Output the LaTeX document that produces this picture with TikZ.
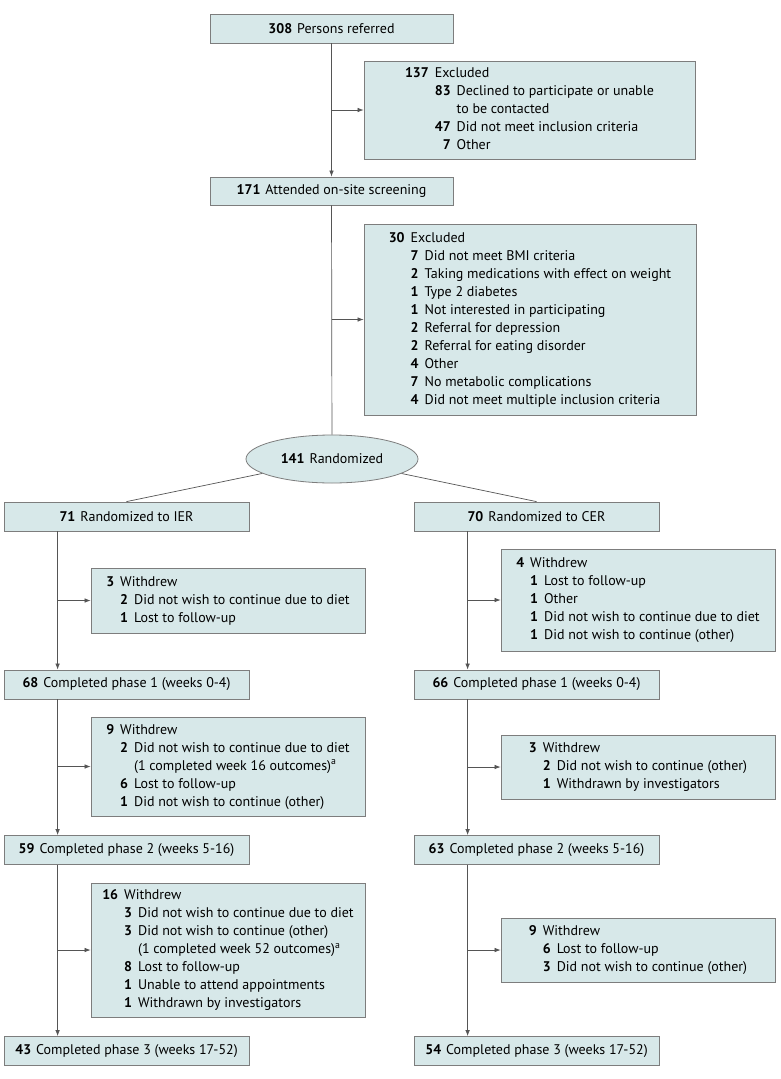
\documentclass[tikz,border=0pt]{standalone}
\usepackage{fontspec}
\setmainfont{PT Sans}
\usepackage{tikz}
\usetikzlibrary{shapes.geometric}
\usetikzlibrary{arrows.meta,calc,positioning}
\usepackage{xcolor}
\definecolor{boxfill}{RGB}{215,232,233}
\definecolor{boxline}{RGB}{125,125,125}
\definecolor{linegray}{RGB}{85,85,85}

\newcommand{\cnt}[2]{\textbf{#1}\hspace{5pt}#2}

\begin{document}
\begin{tikzpicture}[x=1pt,y=-1pt,
    font=\fontsize{14}{18}\selectfont,
    stage/.style={rectangle, draw=boxline, fill=boxfill, line width=0.8pt, minimum width=245pt, minimum height=29pt, inner sep=0pt},
    side/.style={rectangle, draw=boxline, fill=boxfill, line width=0.8pt, minimum width=274pt, inner sep=0pt},
    conn/.style={draw=linegray, line width=0.7pt},
    arr/.style={conn, -{Latex[length=6pt,width=4.5pt]}}]

                \useasboundingbox[fill=white] (0,0) rectangle (780,1079);

                % screening part
                \node[stage, minimum width=243pt] (ref) at (331.5,28.5) {\cnt{308}{Persons referred}};
                \node[stage, minimum width=243pt, minimum height=28pt] (screen) at (331.5,191) {\cnt{171}{Attended on-site screening}};

                \node[side, minimum width=331pt, minimum height=98pt] (excl1) at (529.5,110) {%
                    \begin{tabular}{@{}r@{\hspace{6pt}}l@{}}
                    \textbf{137} & Excluded\\
                     & \begin{tabular}[t]{@{}r@{\hspace{6pt}}l@{}}
                       \textbf{83} & Declined to participate or unable\\
                        & to be contacted\\
                       \textbf{47} & Did not meet inclusion criteria\\
                       \textbf{7} & Other
                       \end{tabular}
                    \end{tabular}};

                \node[side, minimum width=332pt, minimum height=191pt] (excl2) at (530,319.5) {%
                    \begin{tabular}{@{}r@{\hspace{6pt}}l@{}}
                    \textbf{30} & Excluded\\
                     & \begin{tabular}[t]{@{}r@{\hspace{6pt}}l@{}}
                       \textbf{7} & Did not meet BMI criteria\\
                       \textbf{2} & Taking medications with effect on weight\\
                       \textbf{1} & Type 2 diabetes\\
                       \textbf{1} & Not interested in participating\\
                       \textbf{2} & Referral for depression\\
                       \textbf{2} & Referral for eating disorder\\
                       \textbf{4} & Other\\
                       \textbf{7} & No metabolic complications\\
                       \textbf{4} & Did not meet multiple inclusion criteria
                       \end{tabular}
                    \end{tabular}};

                \node[ellipse, draw=boxline, fill=boxfill, line width=0.8pt, minimum width=172pt, minimum height=48pt, inner sep=0pt] (rand) at (332,459) {\cnt{141}{Randomized}};

                % the two arms
                \node[stage] (ier) at (126.5,516.5) {\cnt{71}{Randomized to IER}};
                \node[stage] (cer) at (536.5,516.5) {\cnt{70}{Randomized to CER}};

                \node[stage] (pL1) at (126.5,684.5) {\cnt{68}{Completed phase 1 (weeks 0-4)}};
                \node[stage] (pR1) at (536.5,684.5) {\cnt{66}{Completed phase 1 (weeks 0-4)}};
                \node[stage] (pL2) at (126.5,850) {\cnt{59}{Completed phase 2 (weeks 5-16)}};
                \node[stage] (pR2) at (536.5,850) {\cnt{63}{Completed phase 2 (weeks 5-16)}};
                \node[stage] (pL3) at (126.5,1051) {\cnt{43}{Completed phase 3 (weeks 17-52)}};
                \node[stage] (pR3) at (536.5,1051) {\cnt{54}{Completed phase 3 (weeks 17-52)}};

                \node[side, minimum height=65pt] (wL1) at (228,600.5) {%
                    \begin{tabular}{@{}r@{\hspace{6pt}}l@{}}
                    \textbf{3} & Withdrew\\
                     & \begin{tabular}[t]{@{}r@{\hspace{6pt}}l@{}}
                       \textbf{2} & Did not wish to continue due to diet\\
                       \textbf{1} & Lost to follow-up
                       \end{tabular}
                    \end{tabular}};

                \node[side, minimum height=102pt] (wR1) at (638,600) {%
                    \begin{tabular}{@{}r@{\hspace{6pt}}l@{}}
                    \textbf{4} & Withdrew\\
                     & \begin{tabular}[t]{@{}r@{\hspace{6pt}}l@{}}
                       \textbf{1} & Lost to follow-up\\
                       \textbf{1} & Other\\
                       \textbf{1} & Did not wish to continue due to diet\\
                       \textbf{1} & Did not wish to continue (other)
                       \end{tabular}
                    \end{tabular}};

                \node[side, minimum height=99pt] (wL2) at (228,766.5) {%
                    \begin{tabular}{@{}r@{\hspace{6pt}}l@{}}
                    \textbf{9} & Withdrew\\
                     & \begin{tabular}[t]{@{}r@{\hspace{6pt}}l@{}}
                       \textbf{2} & Did not wish to continue due to diet\\
                        & (1 completed week 16 outcomes)\textsuperscript{a}\\
                       \textbf{6} & Lost to follow-up\\
                       \textbf{1} & Did not wish to continue (other)
                       \end{tabular}
                    \end{tabular}};

                \node[side, minimum height=64pt] (wR2) at (638,767) {%
                    \begin{tabular}{@{}r@{\hspace{6pt}}l@{}}
                    \textbf{3} & Withdrew\\
                     & \begin{tabular}[t]{@{}r@{\hspace{6pt}}l@{}}
                       \textbf{2} & Did not wish to continue (other)\\
                       \textbf{1} & Withdrawn by investigators
                       \end{tabular}
                    \end{tabular}};

                \node[side, minimum height=134pt] (wL3) at (228,950) {%
                    \begin{tabular}{@{}r@{\hspace{6pt}}l@{}}
                    \textbf{16} & Withdrew\\
                     & \begin{tabular}[t]{@{}r@{\hspace{6pt}}l@{}}
                       \textbf{3} & Did not wish to continue due to diet\\
                       \textbf{3} & Did not wish to continue (other)\\
                        & (1 completed week 52 outcomes)\textsuperscript{a}\\
                       \textbf{8} & Lost to follow-up\\
                       \textbf{1} & Unable to attend appointments\\
                       \textbf{1} & Withdrawn by investigators
                       \end{tabular}
                    \end{tabular}};

                \node[side, minimum height=64pt] (wR3) at (638,950) {%
                    \begin{tabular}{@{}r@{\hspace{6pt}}l@{}}
                    \textbf{9} & Withdrew\\
                     & \begin{tabular}[t]{@{}r@{\hspace{6pt}}l@{}}
                       \textbf{6} & Lost to follow-up\\
                       \textbf{3} & Did not wish to continue (other)
                       \end{tabular}
                    \end{tabular}};

                % connectors
                \draw[arr] (ref) -- (screen);
                \draw[arr] (ref.south |- excl1.west) -- (excl1.west);
                \draw[conn] (screen) -- (rand);
                \draw[arr] (screen.south |- excl2.west) -- (excl2.west);
                \draw[conn] (rand) -- (ier.north);
                \draw[conn] (rand) -- (cer.north);

                \foreach \s/ \d/ \w in {ier/pL1/wL1, pL1/pL2/wL2, pL2/pL3/wL3, cer/pR1/wR1, pR1/pR2/wR2, pR2/pR3/wR3}{
                    \coordinate (\s-out) at ($(\s.south west)+(54,0)$);
                    \draw[arr] (\s-out) -- (\s-out |- \d.north);
                    \draw[arr] (\s-out |- \w.west) -- (\w.west);
                }

        \end{tikzpicture}
\end{document}
